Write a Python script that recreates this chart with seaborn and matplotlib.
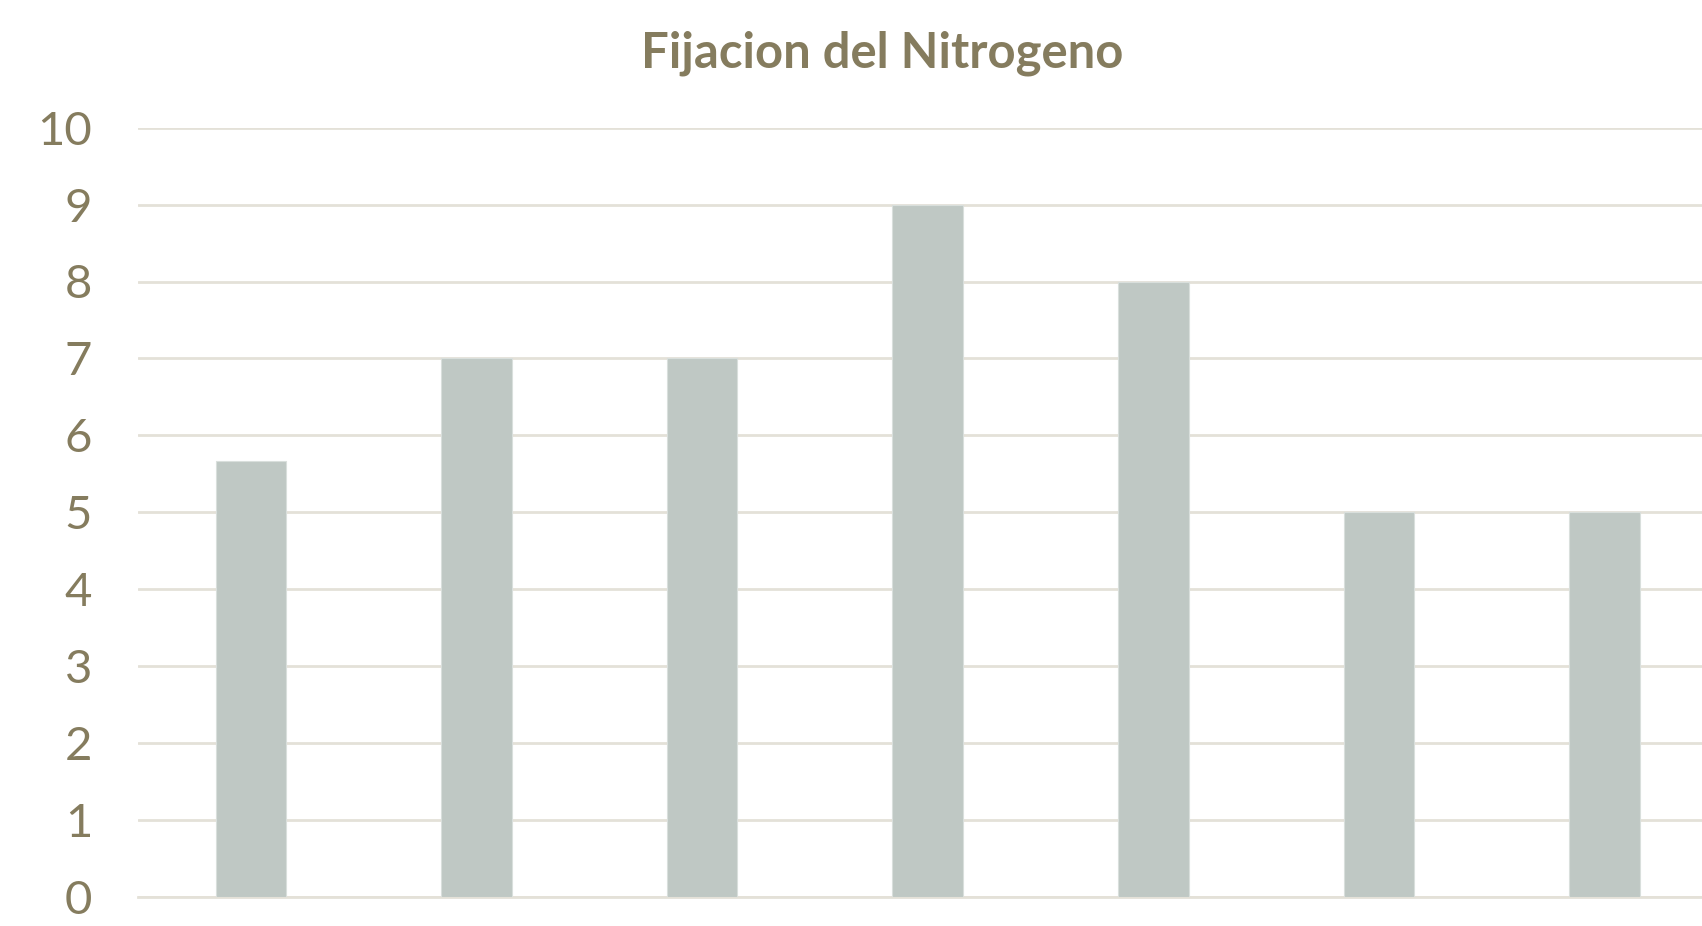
import matplotlib
matplotlib.use("Agg")
import matplotlib.pyplot as plt
import seaborn as sns
import pandas as pd

categories = ["1", "2", "3", "4", "5", "6", "7"]
values = [5.66, 7, 7, 9, 8, 5, 5]
yticks = [0, 1, 2, 3, 4, 5, 6, 7, 8, 9, 10]
title = "Fijacion del Nitrogeno"

sns.set_theme(style="white")
plt.rcParams['font.family'] = ['Lato', 'DejaVu Sans']

text_color = "#857c5e"
grid_color = "#e4e1d8"
bar_color = "#bfc8c4"

df = pd.DataFrame({"cat": categories, "val": values})

fig = plt.figure(figsize=(17.02, 9.26), dpi=100)
ax = fig.add_axes([138/1702, 29.3/926, (1717.3-138)/1702, (896.7-127.7)/926])

sns.barplot(data=df, x="cat", y="val", color=bar_color, width=0.3125,
            saturation=1, edgecolor="#d9dfdc", linewidth=0.8, ax=ax, zorder=3)

ax.set_xlim(-0.5, len(categories) - 0.5)
ax.set_ylim(0, 10)
ax.set_yticks(yticks)
ax.set_yticklabels([str(t) for t in yticks])
ax.yaxis.grid(True, color=grid_color, linewidth=2, zorder=0)
ax.set_axisbelow(True)
ax.set_xticks([])
ax.set_xlabel("")
ax.set_ylabel("")
for s in ["top", "right", "left"]:
    ax.spines[s].set_visible(False)
ax.spines["bottom"].set_color(grid_color)
ax.spines["bottom"].set_linewidth(2)
ax.tick_params(axis="y", length=0, pad=33, labelsize=34, labelcolor=text_color)

fig.text(882/1702, 1 - 67/926, title, ha="center", va="baseline",
         fontsize=35.3, fontweight="bold", color=text_color)

fig.savefig("out.png", dpi=100)
